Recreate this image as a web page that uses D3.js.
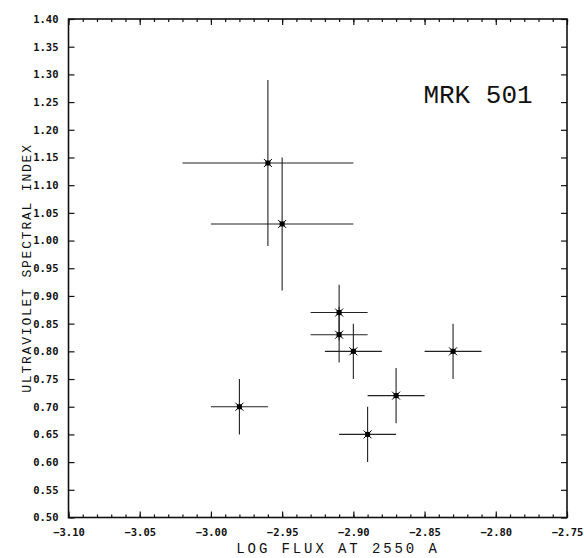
<!DOCTYPE html>
<html>
<head>
<meta charset="utf-8">
<script src="https://cdn.jsdelivr.net/npm/d3@7"></script>
<style>
  body { margin: 0; background: #fff; }
  .tick text { font-family: "DejaVu Sans Mono", monospace; font-weight: bold; font-size: 10.5px; fill: #111; }
  .domain { display: none; }
  .tick line { stroke: #111; stroke-width: 1.2; }
</style>
</head>
<body>
<svg id="chart" width="584" height="558"></svg>
<script>
let logFlux   = [-2.96, -2.95, -2.91, -2.91, -2.90, -2.83, -2.87, -2.89, -2.98]
let uvIndex   = [1.14, 1.03, 0.87, 0.83, 0.80, 0.80, 0.72, 0.65, 0.70]
let fluxErr   = [0.06, 0.05, 0.02, 0.02, 0.02, 0.02, 0.02, 0.02, 0.02]
let indexErr  = [0.15, 0.12, 0.05, 0.05, 0.05, 0.05, 0.05, 0.05, 0.05]

let xTicks = [-3.10, -3.05, -3.00, -2.95, -2.90, -2.85, -2.80, -2.75]
let yTicks = [0.50, 0.55, 0.60, 0.65, 0.70, 0.75, 0.80, 0.85, 0.90, 0.95,
              1.00, 1.05, 1.10, 1.15, 1.20, 1.25, 1.30, 1.35, 1.40]
let xMinor = d3.range(-3.10, -2.745, 0.01).map(v => +v.toFixed(2))

let margin = { left: 68.5, top: 19, right: 17, bottom: 40.5 }
let width = 584, height = 558
let bodyW = width - margin.left - margin.right
let bodyH = height - margin.top - margin.bottom

let svg = d3.select("#chart")
let g = svg.append("g").attr("transform", `translate(${margin.left},${margin.top})`)

let xScale = d3.scaleLinear().domain([-3.10, -2.75]).range([0, bodyW])
let yScale = d3.scaleLinear().domain([0.50, 1.40]).range([bodyH, 0])

// minor ticks top and bottom
g.append("g").attr("transform", `translate(0,${bodyH})`)
    .call(d3.axisBottom(xScale).tickValues(xMinor).tickSize(-3).tickFormat(""))
g.append("g")
    .call(d3.axisTop(xScale).tickValues(xMinor).tickSize(-3).tickFormat(""))

// major ticks
g.append("g").attr("transform", `translate(0,${bodyH})`)
    .call(d3.axisBottom(xScale).tickValues(xTicks).tickSize(-6).tickPadding(11)
        .tickFormat(d3.format(".2f")))
g.append("g")
    .call(d3.axisTop(xScale).tickValues(xTicks).tickSize(-6).tickFormat(""))
g.append("g")
    .call(d3.axisLeft(yScale).tickValues(yTicks).tickSize(-6).tickPadding(10)
        .tickFormat(d3.format(".2f")))
g.append("g").attr("transform", `translate(${bodyW},0)`)
    .call(d3.axisRight(yScale).tickValues(yTicks).tickSize(-6).tickFormat(""))

// frame
g.append("rect").attr("width", bodyW).attr("height", bodyH)
    .attr("fill", "none").attr("stroke", "#111").attr("stroke-width", 1.6)

let pts = logFlux.map((x, i) => ({ x: x, y: uvIndex[i], ex: fluxErr[i], ey: indexErr[i] }))

let bars = g.append("g").attr("stroke", "#222").attr("stroke-width", 1.1)
bars.selectAll(".hbar").data(pts).join("line")
    .attr("x1", d => xScale(d.x - d.ex)).attr("x2", d => xScale(d.x + d.ex))
    .attr("y1", d => yScale(d.y)).attr("y2", d => yScale(d.y))
bars.selectAll(".vbar").data(pts).join("line")
    .attr("x1", d => xScale(d.x)).attr("x2", d => xScale(d.x))
    .attr("y1", d => yScale(d.y - d.ey)).attr("y2", d => yScale(d.y + d.ey))

// star markers
let marks = g.append("g").selectAll("g").data(pts).join("g")
    .attr("transform", d => `translate(${xScale(d.x)},${yScale(d.y)})`)
marks.append("rect").attr("x", -2.5).attr("y", -2.5).attr("width", 5).attr("height", 5).attr("fill", "#000")
marks.append("path").attr("d", "M-4,-4L4,4M-4,4L4,-4").attr("stroke", "#000").attr("stroke-width", 1)

// labels
svg.append("text").attr("x", 338).attr("y", 553).attr("text-anchor", "middle")
    .style("font-family", "'Liberation Mono', monospace").style("font-size", "14px")
    .style("letter-spacing", "2.9px").attr("fill", "#111")
    .text("LOG FLUX AT 2550 A")
svg.append("text").attr("transform", "translate(31,268) rotate(-90)").attr("text-anchor", "middle")
    .style("font-family", "'Liberation Mono', monospace").style("font-size", "13px")
    .style("letter-spacing", "1.8px").attr("fill", "#111")
    .text("ULTRAVIOLET SPECTRAL INDEX")
svg.append("text").attr("x", 478).attr("y", 103).attr("text-anchor", "middle")
    .style("font-family", "'Liberation Mono', monospace").style("font-size", "26px")
    .attr("fill", "#111")
    .text("MRK 501")
</script>
</body>
</html>
